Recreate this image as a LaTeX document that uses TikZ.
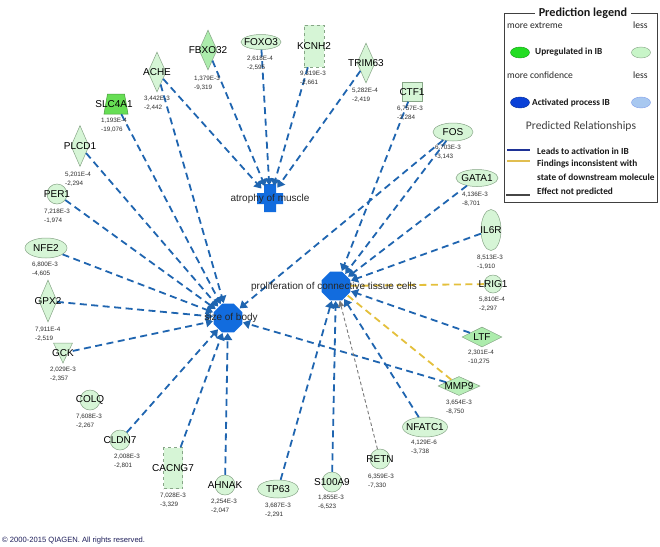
\documentclass[tikz,border=0pt]{standalone}
\usepackage{fontspec}
\setmainfont{Liberation Sans}
\newfontfamily\legfont{Carlito}
\usetikzlibrary{shapes.geometric,arrows.meta}
\definecolor{edgeblue}{RGB}{31,101,176}
\definecolor{hubblue}{RGB}{18,108,222}
\definecolor{genelight}{RGB}{214,245,214}
\definecolor{genemid}{RGB}{172,236,172}
\definecolor{slcgreen}{RGB}{102,222,84}
\definecolor{geneborder}{RGB}{135,165,135}
\definecolor{edgeyellow}{RGB}{228,192,60}
\definecolor{edgegray}{RGB}{120,120,120}
\definecolor{valgray}{RGB}{45,45,45}
\definecolor{legblue}{RGB}{30,50,150}
\definecolor{legyellow}{RGB}{225,190,80}
\definecolor{leggray}{RGB}{70,70,70}
\definecolor{upgreen}{RGB}{34,221,34}
\definecolor{uplight}{RGB}{200,245,200}
\definecolor{actblue}{RGB}{10,65,216}
\definecolor{actlight}{RGB}{168,200,240}
\definecolor{copyblue}{RGB}{30,30,90}
\tikzset{
  gene/.style={draw=geneborder, fill=genelight, inner sep=0pt, line width=0.5pt},
  midgene/.style={gene, fill=genemid},
  glabel/.style={font=\fontsize{10}{12}\selectfont, inner sep=0pt, text=black},
  hlabel/.style={font=\fontsize{10}{12}\selectfont, inner sep=0pt, text=black!85},
  vals/.style={font=\fontsize{6.3}{8.5}\selectfont, inner sep=0pt, align=left, anchor=north west, text=valgray},
  hub/.style={regular polygon, regular polygon sides=8, minimum size=31pt, fill=hubblue, inner sep=0pt},
  edge/.style={draw=edgeblue, line width=1.8pt, dash pattern=on 7pt off 4.5pt, -{Triangle[length=7pt,width=9pt]}, shorten >=0.5pt},
  yedge/.style={draw=edgeyellow, line width=1.8pt, dash pattern=on 7pt off 4.5pt},
  gedge/.style={draw=edgegray, line width=0.9pt, dash pattern=on 3.5pt off 2.5pt, -{Triangle[length=6pt,width=6pt]}},
  legtext/.style={font=\legfont\fontsize{9.6}{11}\selectfont, inner sep=0pt, anchor=west, text=black!85},
  legbold/.style={font=\legfont\bfseries\fontsize{9.3}{11}\selectfont, inner sep=0pt, anchor=west, text=black!90},
}
\begin{document}
\begin{tikzpicture}[x=1pt,y=-1pt]
\useasboundingbox[fill=white] (0,0) rectangle (660,546);

% ---------- hubs ----------
\node[hub] (size) at (228,318) {};
\node[hub] (prolif) at (336,286) {};
\node[inner sep=0pt, minimum size=24pt, circle] (atrophy) at (270,198) {};
\fill[hubblue] (264,184) -- (276,184) -- (276,193) -- (283,193) -- (283,204) -- (276,204) -- (276,212) -- (264,212) -- (264,204) -- (257,204) -- (257,193) -- (264,193) -- cycle;

% ---------- genes ----------
\node[gene, diamond, minimum width=18pt, minimum height=40pt, aspect=0.45] (ACHE) at (157,72) {};
\node[midgene, diamond, minimum width=18pt, minimum height=40pt, aspect=0.45] (FBXO32) at (208,50) {};
\node[gene, ellipse, minimum width=40pt, minimum height=15pt] (FOXO3) at (261,42) {};
\node[gene, rectangle, dashed, minimum width=20pt, minimum height=42pt] (KCNH2) at (314,46) {};
\node[gene, diamond, minimum width=18pt, minimum height=40pt, aspect=0.45] (TRIM63) at (366,63) {};
\node[gene, rectangle, minimum width=20pt, minimum height=19pt] (CTF1) at (412,92) {};
\node[gene, ellipse, minimum width=40pt, minimum height=18pt] (FOS) at (453,132) {};
\node[gene, ellipse, minimum width=42pt, minimum height=17pt] (GATA1) at (477,178) {};
\node[gene, ellipse, minimum width=20pt, minimum height=41pt] (IL6R) at (491,230) {};
\node[gene, circle, minimum size=18pt] (LRIG1) at (493,284) {};
\node[midgene, diamond, minimum width=40pt, minimum height=20pt, aspect=2] (LTF) at (482,337) {};
\node[gene, fill=genemid!70!genelight, diamond, minimum width=42pt, minimum height=19pt, aspect=2.2] (MMP9) at (459,386) {};
\node[gene, ellipse, minimum width=45pt, minimum height=20pt] (NFATC1) at (425,427) {};
\node[gene, circle, minimum size=20pt] (RETN) at (380,459) {};
\node[gene, circle, minimum size=20pt] (S100A9) at (332,482) {};
\node[gene, ellipse, minimum width=41pt, minimum height=18pt] (TP63) at (278,489) {};
\node[gene, circle, minimum size=20pt] (AHNAK) at (225,485) {};
\node[gene, rectangle, dashed, minimum width=19pt, minimum height=41pt] (CACNG7) at (173,468) {};
\node[gene, circle, minimum size=20pt] (CLDN7) at (120,440) {};
\node[gene, circle, minimum size=20pt] (COLQ) at (90,400) {};
\node[inner sep=0pt, minimum width=19pt, minimum height=20pt] (GCK) at (63,353) {};
\filldraw[draw=geneborder, fill=genelight, line width=0.5pt] (53.5,343) -- (72.5,343) -- (63,363) -- cycle;
\node[gene, diamond, minimum width=18pt, minimum height=42pt, aspect=0.43] (GPX2) at (48,301) {};
\node[gene, ellipse, minimum width=42pt, minimum height=20pt] (NFE2) at (46,248) {};
\node[gene, circle, minimum size=20pt] (PER1) at (57,194) {};
\node[gene, diamond, minimum width=18pt, minimum height=41pt, aspect=0.44] (PLCD1) at (80,146) {};
\node[inner sep=0pt, minimum width=24pt, minimum height=20pt] (SLC4A1) at (116,104) {};
\filldraw[draw=slcgreen!70!black, fill=slcgreen, line width=0.5pt] (107.5,94) -- (124.5,94) -- (128,114) -- (104,114) -- cycle;

% ---------- edges ----------
\foreach \g in {ACHE,FBXO32,FOXO3,KCNH2,TRIM63} \draw[edge] (\g) -- (atrophy);
\foreach \g in {ACHE,SLC4A1,PLCD1,PER1,NFE2,GPX2,GCK,CLDN7,CACNG7,AHNAK,FOS,MMP9} \draw[edge] (\g) -- (size);
\foreach \g in {CTF1,FOS,GATA1,IL6R,LTF,NFATC1,S100A9,TP63} \draw[edge] (\g) -- (prolif);
\draw[yedge] (LRIG1) -- (prolif);
\draw[yedge] (MMP9) -- (prolif);
\draw[gedge] (RETN) -- (prolif);

% ---------- gene labels ----------
\node[glabel] (ACHE-l) at (157,72) {ACHE};
\node[glabel] (FBXO32-l) at (208,50) {FBXO32};
\node[glabel] (FOXO3-l) at (261,42) {FOXO3};
\node[glabel] (KCNH2-l) at (314,46) {KCNH2};
\node[glabel] (TRIM63-l) at (366,63) {TRIM63};
\node[glabel] (CTF1-l) at (412,92) {CTF1};
\node[glabel] (FOS-l) at (453,132) {FOS};
\node[glabel] (GATA1-l) at (477,178) {GATA1};
\node[glabel] (IL6R-l) at (491,230) {IL6R};
\node[glabel] (LRIG1-l) at (493,284) {LRIG1};
\node[glabel] (LTF-l) at (482,337) {LTF};
\node[glabel] (MMP9-l) at (459,386) {MMP9};
\node[glabel] (NFATC1-l) at (425,427) {NFATC1};
\node[glabel] (RETN-l) at (380,459) {RETN};
\node[glabel] (S100A9-l) at (332,482) {S100A9};
\node[glabel] (TP63-l) at (278,489) {TP63};
\node[glabel] (AHNAK-l) at (225,485) {AHNAK};
\node[glabel] (CACNG7-l) at (173,468) {CACNG7};
\node[glabel] (CLDN7-l) at (120,440) {CLDN7};
\node[glabel] (COLQ-l) at (90,400) {COLQ};
\node[glabel] (GCK-l) at (63,353) {GCK};
\node[glabel] (GPX2-l) at (48,301) {GPX2};
\node[glabel] (NFE2-l) at (46,248) {NFE2};
\node[glabel] (PER1-l) at (57,194) {PER1};
\node[glabel] (PLCD1-l) at (80,146) {PLCD1};
\node[glabel] (SLC4A1-l) at (114,104) {SLC4A1};

% ---------- hub labels ----------
\node[hlabel] (atrophy-l) at (270,199) {atrophy of muscle};
\node[hlabel] (size-l) at (231,318) {size of body};
\node[hlabel] (prolif-l) at (334,287) {proliferation of connective tissue cells};

% ---------- values ----------
\node[vals] (ACHE-v) at (144,96) {3,442E-3\\-2,442};
\node[vals] (FBXO32-v) at (194,76) {1,379E-3\\-9,319};
\node[vals] (FOXO3-v) at (247,56) {2,618E-4\\-2,595};
\node[vals] (KCNH2-v) at (300,71) {9,319E-3\\-2,661};
\node[vals] (TRIM63-v) at (352,88) {5,282E-4\\-2,419};
\node[vals] (CTF1-v) at (397,106) {6,757E-3\\-2,284};
\node[vals] (FOS-v) at (435,145) {6,703E-3\\-3,143};
\node[vals] (GATA1-v) at (462,192) {4,136E-3\\-8,701};
\node[vals] (IL6R-v) at (477,255) {8,513E-3\\-1,910};
\node[vals] (LRIG1-v) at (479,297) {5,810E-4\\-2,297};
\node[vals] (LTF-v) at (468,350) {2,301E-4\\-10,275};
\node[vals] (MMP9-v) at (446,400) {3,654E-3\\-8,750};
\node[vals] (NFATC1-v) at (411,440) {4,129E-6\\-3,738};
\node[vals] (RETN-v) at (368,474) {6,359E-3\\-7,330};
\node[vals] (S100A9-v) at (318,495) {1,855E-3\\-6,523};
\node[vals] (TP63-v) at (265,503) {3,687E-3\\-2,291};
\node[vals] (AHNAK-v) at (211,499) {2,254E-3\\-2,047};
\node[vals] (CACNG7-v) at (160,493) {7,028E-3\\-3,329};
\node[vals] (CLDN7-v) at (114,454) {2,008E-3\\-2,801};
\node[vals] (COLQ-v) at (76,414) {7,608E-3\\-2,267};
\node[vals] (GCK-v) at (50,367) {2,029E-3\\-2,357};
\node[vals] (GPX2-v) at (35,327) {7,911E-4\\-2,519};
\node[vals] (NFE2-v) at (32,262) {6,800E-3\\-4,605};
\node[vals] (PER1-v) at (44,209) {7,218E-3\\-1,974};
\node[vals] (PLCD1-v) at (65,172) {5,201E-4\\-2,294};
\node[vals] (SLC4A1-v) at (101,118) {1,193E-4\\-19,076};

% ---------- legend ----------
\draw[black!75, line width=0.8pt] (504,13) rectangle (657,202);
\node[fill=white, inner xsep=4pt, inner ysep=1pt, font=\legfont\bfseries\fontsize{12.2}{14}\selectfont, text=black!90] (legtitle) at (583,13) {Prediction legend};
\node[legtext] (more1) at (507,25) {more extreme};
\node[legtext] (less1) at (633,25) {less};
\node[ellipse, fill=upgreen, draw=upgreen!70!black, line width=0.4pt, minimum width=19pt, minimum height=11pt, inner sep=0pt] (upg) at (520,52.5) {};
\node[legbold] (uptext) at (535,52.5) {Upregulated in IB};
\node[ellipse, fill=uplight, draw=geneborder, line width=0.4pt, minimum width=19pt, minimum height=11pt, inner sep=0pt] (upl) at (641,52.5) {};
\node[legtext] (more2) at (507,75) {more confidence};
\node[legtext] (less2) at (633,75) {less};
\node[ellipse, fill=actblue, draw=actblue!70!black, line width=0.4pt, minimum width=19pt, minimum height=11pt, inner sep=0pt] (actb) at (520,102.5) {};
\node[legbold] (acttext) at (532,102.5) {Activated process IB};
\node[ellipse, fill=actlight, draw=actblue!50, line width=0.4pt, minimum width=19pt, minimum height=11pt, inner sep=0pt] (actl) at (641,102.5) {};
\node[font=\legfont\fontsize{11.6}{13}\selectfont, inner sep=0pt, text=black!75] (predrel) at (581,126) {Predicted Relationships};
\coordinate (lb1) at (507,150); \coordinate (lb2) at (530,150);
\draw[legblue, line width=2.2pt] (lb1) -- (lb2);
\node[legbold] (leads) at (537,151) {Leads to activation in IB};
\coordinate (ly1) at (507,161); \coordinate (ly2) at (530,161);
\draw[legyellow, line width=2.2pt] (ly1) -- (ly2);
\node[legbold] (find1) at (537,164) {Findings inconsistent with};
\node[legbold] (find2) at (537,177.5) {state of downstream molecule};
\coordinate (lg1) at (506,195); \coordinate (lg2) at (530,195);
\draw[leggray, line width=2.2pt] (lg1) -- (lg2);
\node[legbold] (noteff) at (537,192) {Effect not predicted};

% ---------- copyright ----------
\node[anchor=west, inner sep=0pt, font=\fontsize{7.6}{9}\selectfont, text=copyblue] (copy) at (2,541) {\textcopyright{} 2000-2015 QIAGEN. All rights reserved.};
\end{tikzpicture}
\end{document}
